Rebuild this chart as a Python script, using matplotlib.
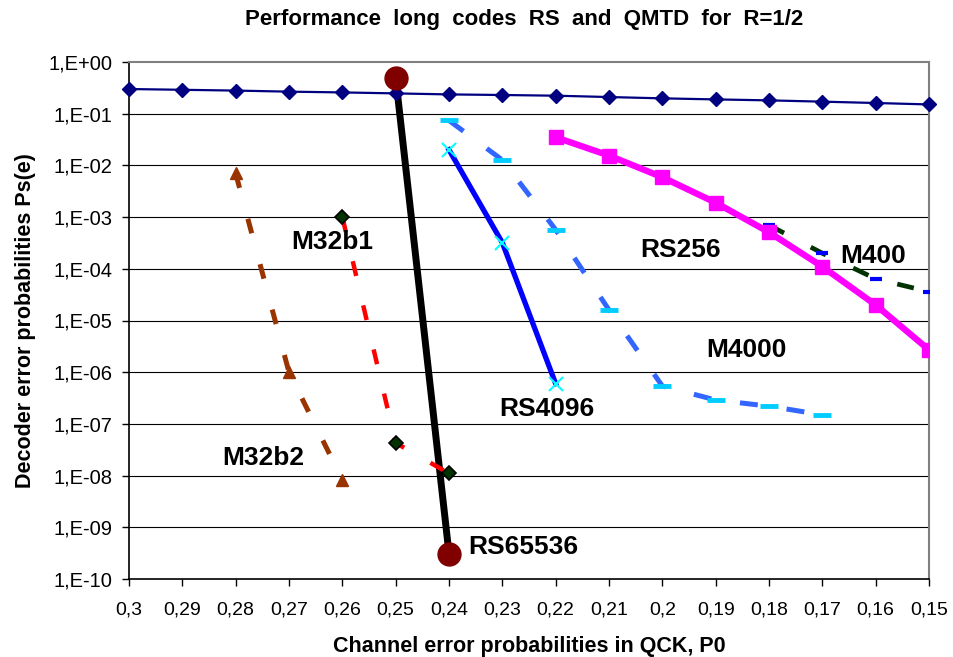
import matplotlib
matplotlib.use("Agg")
import matplotlib.pyplot as plt

plt.rcParams["font.family"] = ["Liberation Sans", "DejaVu Sans"]

# x positions (channel error probability) and tick texts
p_ticks = [0.30, 0.29, 0.28, 0.27, 0.26, 0.25, 0.24, 0.23, 0.22, 0.21,
           0.20, 0.19, 0.18, 0.17, 0.16, 0.15]
x_labels = ["0,3", "0,29", "0,28", "0,27", "0,26", "0,25", "0,24", "0,23",
            "0,22", "0,21", "0,2", "0,19", "0,18", "0,17", "0,16", "0,15"]
y_ticks = [1e0, 1e-1, 1e-2, 1e-3, 1e-4, 1e-5, 1e-6, 1e-7, 1e-8, 1e-9, 1e-10]
y_labels = ["1,E+00", "1,E-01", "1,E-02", "1,E-03", "1,E-04", "1,E-05",
            "1,E-06", "1,E-07", "1,E-08", "1,E-09", "1,E-10"]

# series
uncoded_p = p_ticks
uncoded_ps = [0.30, 0.29, 0.28, 0.267, 0.258, 0.247, 0.236, 0.23, 0.223,
              0.21, 0.198, 0.189, 0.181, 0.171, 0.161, 0.151]

rs65536_p = [0.25, 0.24]
rs65536_ps = [0.5, 3.1e-10]

rs4096_p = [0.24, 0.23, 0.22]
rs4096_ps = [2.0e-2, 3.2e-4, 6.0e-7]

rs256_p = [0.22, 0.21, 0.20, 0.19, 0.18, 0.17, 0.16, 0.15]
rs256_ps = [3.5e-2, 1.55e-2, 5.9e-3, 1.9e-3, 5.1e-4, 1.1e-4, 2.0e-5, 2.7e-6]

m4000_p = [0.24, 0.23, 0.22, 0.21, 0.20, 0.19, 0.18, 0.17]
m4000_ps = [7.4e-2, 1.27e-2, 5.7e-4, 1.6e-5, 5.4e-7, 2.9e-7, 2.2e-7, 1.5e-7]

m400_p = [0.18, 0.17, 0.16, 0.15]
m400_ps = [7.0e-4, 2.0e-4, 6.4e-5, 3.6e-5]

m32b1_p = [0.26, 0.25, 0.24]
m32b1_ps = [1.0e-3, 4.3e-8, 1.1e-8]

m32b2_p = [0.28, 0.27, 0.26]
m32b2_ps = [7.0e-3, 1.0e-6, 8.3e-9]

# label names and where they sit (p, Ps)
label_names = ["M32b1", "M32b2", "RS4096", "RS65536", "RS256", "M400", "M4000"]
label_p = [0.2618, 0.2749, 0.2217, 0.2261, 0.1965, 0.1604, 0.1842]
label_ps = [3.3e-4, 2.2e-8, 1.9e-7, 4.2e-10, 2.3e-4, 1.8e-4, 2.7e-6]

fig = plt.figure(figsize=(9.54, 6.57), dpi=100)
ax = fig.add_axes([129 / 954, 1 - 579 / 657, 800 / 954, 517 / 657])

ax.set_yscale("log")
ax.set_xlim(0.30, 0.15)
ax.set_ylim(1e-10, 1e0)

# horizontal grid
for yv in y_ticks[1:-1]:
    ax.axhline(yv, color="black", lw=0.8, zorder=1)

# M4000
ax.plot(m4000_p, m4000_ps, color="#3366FF", lw=3.6, ls=(0, (3.6, 5.8)),
        zorder=3)
ax.plot(m4000_p, m4000_ps, ls="none", marker="_", ms=13, mew=3.5,
        color="#00CCFF", zorder=4)

# M400
ax.plot(m400_p, m400_ps, color="#003300", lw=3.4, ls=(0, (3.6, 6.4)),
        zorder=3)
ax.plot(m400_p, m400_ps, ls="none", marker="_", ms=8, mew=3,
        color="#0000FF", zorder=4)

# RS256
ax.plot(rs256_p, rs256_ps, color="#FF00FF", lw=4.6, marker="s", ms=9.5,
        zorder=5)

# RS4096
ax.plot(rs4096_p, rs4096_ps, color="#0000FF", lw=3.8, zorder=5)
ax.plot(rs4096_p, rs4096_ps, ls="none", marker="x", ms=10, mew=1.5,
        color="#00FFFF", zorder=6)

# M32b2
ax.plot(m32b2_p, m32b2_ps, color="#993300", lw=3.6, ls=(0, (3, 6.4)),
        marker="^", ms=9, zorder=5)

# RS65536
ax.plot(rs65536_p, rs65536_ps, color="black", lw=5, zorder=5)
ax.plot(rs65536_p, rs65536_ps, ls="none", marker="o", ms=16.5,
        color="#800000", zorder=8)

# M32b1
ax.plot(m32b1_p, m32b1_ps, color="#FF0000", lw=3.2, ls=(0, (3.4, 6.8)),
        zorder=6)
ax.plot(m32b1_p, m32b1_ps, ls="none", marker="D", ms=7.5,
        markerfacecolor="#003300", markeredgecolor="black", mew=1.2, zorder=7)

# uncoded channel curve
ax.plot(uncoded_p, uncoded_ps, color="#000080", lw=1.6, marker="D", ms=7.5,
        zorder=7, clip_on=False)

# series labels
for name, lp, lps in zip(label_names, label_p, label_ps):
    ax.text(lp, lps, name, fontsize=19, fontweight="bold", ha="center",
            va="center", zorder=9)

ax.set_xticks(p_ticks)
ax.set_xticklabels(x_labels, fontsize=14)
ax.set_yticks(y_ticks)
ax.set_yticklabels(y_labels, fontsize=14.5)
ax.minorticks_off()
ax.tick_params(axis="both", direction="out", length=5, width=1,
               color="black")
ax.tick_params(axis="x", pad=11.5)
ax.tick_params(axis="y", pad=7)

for side in ["top", "right"]:
    ax.spines[side].set_color("#808080")
    ax.spines[side].set_linewidth(1.5)
for side in ["left", "bottom"]:
    ax.spines[side].set_color("black")
    ax.spines[side].set_linewidth(1.2)

ax.set_xlabel("Channel error probabilities in QCK, P0", fontsize=15.5,
              fontweight="bold", labelpad=12)
ax.set_ylabel("Decoder error probabilities Ps(e)", fontsize=15.5,
              fontweight="bold", labelpad=9)

fig.text(524 / 954, 1 - 20 / 657,
         "Performance  long  codes  RS  and  QMTD  for  R=1/2",
         fontsize=16, fontweight="bold", ha="center", va="center")

fig.savefig("out.png", dpi=100)
